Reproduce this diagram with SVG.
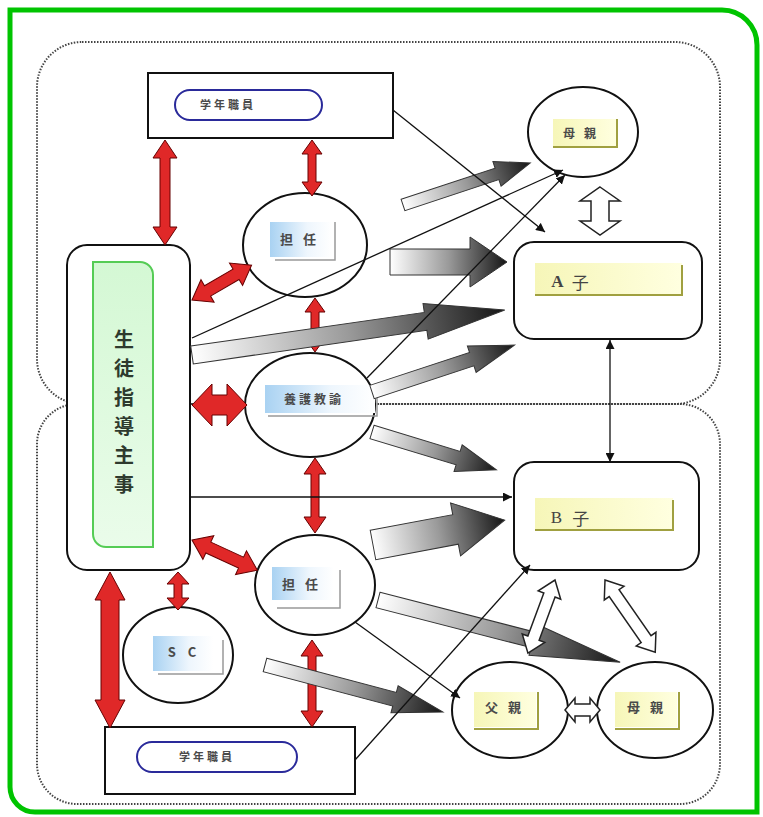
<svg xmlns="http://www.w3.org/2000/svg" width="763" height="817" viewBox="0 0 763 817">
<defs>
<style>
.frame{fill:none;stroke:#00c400;stroke-width:5}
.region{fill:none;stroke:#444;stroke-width:2;stroke-dasharray:1.5 1.5}
.box{fill:#fff;stroke:#111;stroke-width:2}
.node{fill:#fff;stroke:#111;stroke-width:2}
.pill{fill:#fff;stroke:#2a2a9a;stroke-width:2}
.ylab{fill:url(#yel)}
.yshadow{fill:none;stroke:#a0a040;stroke-width:2}
.blab{fill:url(#blu)}
.bshadow{fill:none;stroke:#999;stroke-width:1.5}
.t{font-family:"Noto Sans CJK JP","Noto Sans CJK SC",sans-serif;fill:#4a4a4a;font-weight:bold;text-anchor:middle;dominant-baseline:central}
.red{fill:#e02828;stroke:#600;stroke-width:1}
.grad{fill:url(#gr);stroke:#333;stroke-width:1}
.wht{fill:#fff;stroke:#222;stroke-width:1.5}
.thin{fill:none;stroke:#111;stroke-width:1.3}
</style>
<linearGradient id="yel" x1="0" y1="0" x2="1" y2="0"><stop offset="0" stop-color="#f6f6b8"/><stop offset="1" stop-color="#ffffe0"/></linearGradient>
<linearGradient id="blu" x1="0" y1="0" x2="1" y2="0"><stop offset="0" stop-color="#a9d2f2"/><stop offset="0.6" stop-color="#eef6fd"/><stop offset="1" stop-color="#ffffff"/></linearGradient>
<linearGradient id="gr" x1="0" y1="0" x2="1" y2="0"><stop offset="0" stop-color="#ffffff"/><stop offset="0.5" stop-color="#9a9a9a"/><stop offset="1" stop-color="#151515"/></linearGradient>
<linearGradient id="grn" x1="0" y1="0" x2="0" y2="1"><stop offset="0" stop-color="#d4f8d4"/><stop offset="1" stop-color="#eafcea"/></linearGradient>
<marker id="ah" viewBox="0 0 10 10" refX="10" refY="5" markerWidth="9" markerHeight="9" markerUnits="userSpaceOnUse" orient="auto-start-reverse"><path d="M0,0 L10,5 L0,10 Z" fill="#111"/></marker>
</defs>
<rect width="763" height="817" fill="#fff"/>
<path class="frame" d="M10,10 H722 A35,35 0 0 1 757,45 V812 H35 A25,25 0 0 1 10,787 Z"/>
<rect class="region" x="37" y="42" width="683" height="362" rx="45"/>
<rect class="region" x="37" y="404" width="683" height="400" rx="40"/>

<g id="node-gakunen-top">
<rect class="box" x="148" y="73" width="245" height="65"/>
<rect class="pill" x="175" y="90" width="147" height="30" rx="15"/>
<text class="t" x="228" y="104" font-size="11" letter-spacing="3">学年職員</text>
</g>
<g id="node-haha-top">
<ellipse class="node" cx="583" cy="132" rx="55" ry="45"/>
<rect class="ylab" x="553" y="119" width="64" height="28"/>
<polyline class="yshadow" points="617,119 617,147 553,147"/>
<text class="t" x="584" y="132" font-size="12" letter-spacing="9">母親</text>
</g>
<g id="node-tannin-top">
<ellipse class="node" cx="305" cy="245" rx="62" ry="52"/>
<rect class="blab" x="270" y="222" width="62" height="35"/>
<polyline class="bshadow" points="335,222 335,260 275,260"/>
<text class="t" x="303" y="238" font-size="13" letter-spacing="10">担任</text>
</g>
<g id="node-yogo">
<ellipse class="node" cx="310" cy="405" rx="65" ry="52"/>
<rect class="blab" x="265" y="385" width="110" height="28"/>
<polyline class="bshadow" points="377,385 377,416 268,416"/>
<text class="t" x="314" y="398" font-size="12" letter-spacing="3">養護教諭</text>
</g>
<g id="node-tannin-bottom">
<ellipse class="node" cx="315" cy="585" rx="60" ry="50"/>
<rect class="blab" x="272" y="567" width="62" height="33"/>
<polyline class="bshadow" points="340,570 340,608 277,608"/>
<text class="t" x="305" y="583" font-size="13" letter-spacing="10">担任</text>
</g>
<g id="node-sc">
<ellipse class="node" cx="178" cy="655" rx="55" ry="48"/>
<rect class="blab" x="153" y="636" width="60" height="35"/>
<polyline class="bshadow" points="223,640 223,674 158,674"/>
<text class="t" x="188" y="651" font-size="13" font-weight="normal" letter-spacing="12">SC</text>
</g>
<g id="node-chichi">
<ellipse class="node" cx="510" cy="710" rx="58" ry="48"/>
<rect class="ylab" x="474" y="692" width="62" height="35"/>
<polyline class="yshadow" points="538,692 538,729 474,729"/>
<text class="t" x="508" y="706" font-size="13" letter-spacing="10">父親</text>
</g>
<g id="node-haha-bottom">
<ellipse class="node" cx="655" cy="710" rx="58" ry="48"/>
<rect class="ylab" x="615" y="692" width="62" height="35"/>
<polyline class="yshadow" points="679,692 679,729 615,729"/>
<text class="t" x="650" y="706" font-size="13" letter-spacing="10">母親</text>
</g>
<g id="node-a">
<rect class="box" x="514" y="242" width="188" height="97" rx="20"/>
<rect class="ylab" x="535" y="263" width="147" height="31"/>
<polyline class="yshadow" points="682,265 682,295 535,295"/>
<text x="574" y="281" font-size="17" font-family="Liberation Serif,Noto Sans CJK JP,serif" font-weight="bold" fill="#444" text-anchor="middle" dominant-baseline="central" letter-spacing="8">A<tspan font-weight="normal" font-family="Noto Sans CJK JP,sans-serif">子</tspan></text>
</g>
<g id="node-b">
<rect class="box" x="514" y="462" width="185" height="108" rx="20"/>
<rect class="ylab" x="535" y="498" width="138" height="32"/>
<polyline class="yshadow" points="673,500 673,530 535,530"/>
<text x="575" y="517" font-size="17" font-family="Liberation Serif,Noto Sans CJK JP,serif" fill="#444" text-anchor="middle" dominant-baseline="central" letter-spacing="10">B<tspan font-family="Noto Sans CJK JP,sans-serif">子</tspan></text>
</g>
<g id="node-shido">
<rect class="box" x="67" y="245" width="123" height="325" rx="20"/>
<path d="M93,262 H140 A13,13 0 0 1 153,275 V547 H106 A13,13 0 0 1 93,534 Z" fill="url(#grn)" stroke="#55cc55" stroke-width="2"/>
<g class="t" font-size="20" style="fill:#2e3a2e">
<text x="124" y="338">生</text>
<text x="124" y="367">徒</text>
<text x="124" y="396">指</text>
<text x="124" y="425">導</text>
<text x="124" y="454">主</text>
<text x="124" y="483">事</text>
</g>
</g>
<g id="node-gakunen-bottom">
<rect class="box" x="105" y="727" width="250" height="67"/>
<rect class="pill" x="137" y="742" width="160" height="30" rx="15"/>
<text class="t" x="207" y="756" font-size="11" letter-spacing="3">学年職員</text>
</g>

<g id="connectors">
<path class="red" transform="translate(165,140) rotate(90)" d="M0,0 L18,-12 L18,-5 L87,-5 L87,-12 L105,0 L87,12 L87,5 L18,5 L18,12 Z"/>
<path class="red" transform="translate(312,140) rotate(90)" d="M0,0 L14,-10 L14,-4 L42,-4 L42,-10 L56,0 L42,10 L42,4 L14,4 L14,10 Z"/>
<path class="red" transform="translate(192,300) rotate(-30.3)" d="M0,0 L18,-13 L18,-6 L51,-6 L51,-13 L69,0 L51,13 L51,6 L18,6 L18,13 Z"/>
<path class="red" transform="translate(315,298) rotate(90)" d="M0,0 L14,-10 L14,-4 L40,-4 L40,-10 L54,0 L40,10 L40,4 L14,4 L14,10 Z"/>
<path class="red" transform="translate(192,405)" d="M0,0 L20,-21 L20,-10 L35,-10 L35,-21 L55,0 L35,21 L35,10 L20,10 L20,21 Z"/>
<path class="red" transform="translate(315,458) rotate(90)" d="M0,0 L16,-11 L16,-4 L59,-4 L59,-11 L75,0 L59,11 L59,4 L16,4 L16,11 Z"/>
<path class="red" transform="translate(192,540) rotate(24.8)" d="M0,0 L18,-13 L18,-6 L54,-6 L54,-13 L72,0 L54,13 L54,6 L18,6 L18,13 Z"/>
<path class="red" transform="translate(178,572) rotate(90)" d="M0,0 L12,-11 L12,-4 L26,-4 L26,-11 L38,0 L26,11 L26,4 L12,4 L12,11 Z"/>
<path class="red" transform="translate(110,572) rotate(90)" d="M0,0 L28,-15 L28,-9 L128,-9 L128,-15 L156,0 L128,15 L128,9 L28,9 L28,15 Z"/>
<path class="red" transform="translate(312,640) rotate(90)" d="M0,0 L16,-11 L16,-4 L71,-4 L71,-11 L87,0 L71,11 L71,4 L16,4 L16,11 Z"/>
<path class="grad" transform="translate(403,205) rotate(-18.3)" d="M0,-6 L99,-6 L99,-13 L134,0 L99,13 L99,6 L0,6 Z"/>
<path class="grad" transform="translate(390,262)" d="M0,-13 L80,-13 L80,-25 L117,0 L80,25 L80,13 L0,13 Z"/>
<path class="grad" transform="translate(192,355) rotate(-8.2)" d="M0,-9 L236,-9 L236,-18 L316,0 L236,18 L236,9 L0,9 Z"/>
<path class="grad" transform="translate(372,392) rotate(-18.2)" d="M0,-7 L105,-7 L105,-14 L150,0 L105,14 L105,7 L0,7 Z"/>
<path class="grad" transform="translate(372,432) rotate(16.9)" d="M0,-7 L90,-7 L90,-14 L130,0 L90,14 L90,7 L0,7 Z"/>
<path class="grad" transform="translate(373,545) rotate(-10.7)" d="M0,-15 L84,-15 L84,-27 L134,0 L84,27 L84,15 L0,15 Z"/>
<path class="grad" transform="translate(378,600) rotate(14.4)" d="M0,-8 L160,-8 L160,-16 L250,0 L160,16 L160,8 L0,8 Z"/>
<path class="grad" transform="translate(265,665) rotate(14.8)" d="M0,-7 L134,-7 L134,-14 L184,0 L134,14 L134,7 L0,7 Z"/>
<path class="wht" transform="translate(600,187) rotate(90)" d="M0,0 L14,-20 L14,-9 L34,-9 L34,-20 L48,0 L34,20 L34,9 L14,9 L14,20 Z"/>
<path class="wht" transform="translate(555,580) rotate(110.3)" d="M0,0 L16,-12 L16,-6 L62,-6 L62,-12 L78,0 L62,12 L62,6 L16,6 L16,12 Z"/>
<path class="wht" transform="translate(605,580) rotate(55.2)" d="M0,0 L16,-12 L16,-6 L72,-6 L72,-12 L88,0 L72,12 L72,6 L16,6 L16,12 Z"/>
<path class="wht" transform="translate(565,710)" d="M0,0 L10,-12 L10,-6 L25,-6 L25,-12 L35,0 L25,12 L25,6 L10,6 L10,12 Z"/>
<line class="thin" x1="393" y1="110" x2="545" y2="232" marker-end="url(#ah)"/>
<line class="thin" x1="192" y1="338" x2="563" y2="170" marker-end="url(#ah)"/>
<line class="thin" x1="367" y1="378" x2="565" y2="175" marker-end="url(#ah)"/>
<line class="thin" x1="610" y1="340" x2="610" y2="462" marker-start="url(#ah)" marker-end="url(#ah)"/>
<line class="thin" x1="190" y1="497" x2="512" y2="497" marker-end="url(#ah)"/>
<line class="thin" x1="355" y1="622" x2="460" y2="698" marker-end="url(#ah)"/>
<line class="thin" x1="355" y1="760" x2="530" y2="565" marker-end="url(#ah)"/>
</g>
</svg>
